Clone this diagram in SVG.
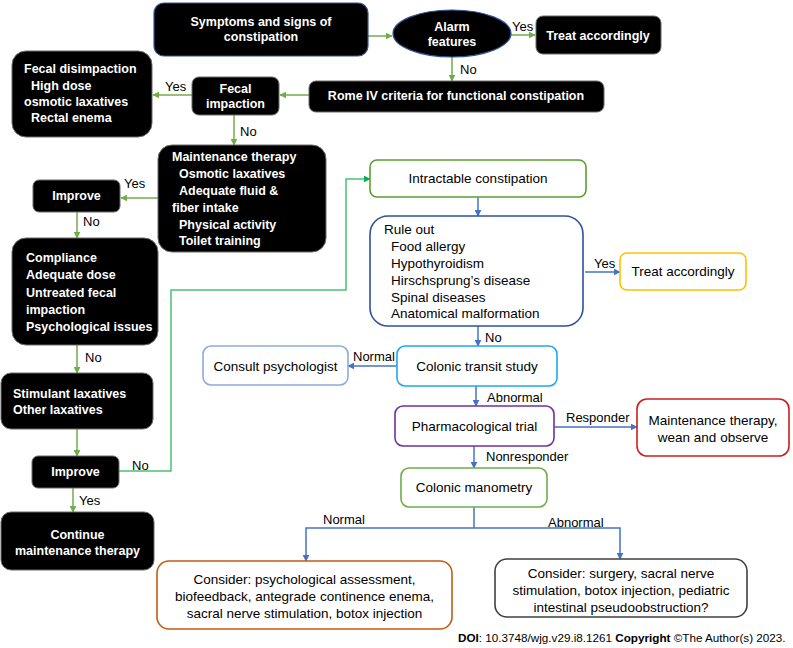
<svg xmlns="http://www.w3.org/2000/svg" width="793" height="648" viewBox="0 0 793 648">
<defs>
<style>
.bk{fill:#000;stroke:#6b6b6b;stroke-width:1}
.bt{font-family:"Liberation Sans",Arial,sans-serif;font-weight:bold;font-size:12.5px;fill:#fff}
.t{font-family:"Liberation Sans",Arial,sans-serif;font-size:13.5px;fill:#000}
.lb{font-family:"Liberation Sans",Arial,sans-serif;font-size:13px;fill:#000}
.ob{fill:#fff;stroke-width:1.6}
.g{stroke:#70ad47;stroke-width:1.5;fill:none}
.b{stroke:#4472c4;stroke-width:1.5;fill:none}
.c{text-anchor:middle}
</style>
<marker id="ag" viewBox="0 0 10 10" refX="9" refY="5" markerWidth="7" markerHeight="7" markerUnits="userSpaceOnUse" orient="auto"><path d="M0,0L10,5L0,10z" fill="#70ad47"/></marker>
<marker id="ag2" viewBox="0 0 10 10" refX="9" refY="5" markerWidth="7" markerHeight="7" markerUnits="userSpaceOnUse" orient="auto"><path d="M0,0L10,5L0,10z" fill="#00b050"/></marker>
<marker id="ab" viewBox="0 0 10 10" refX="9" refY="5" markerWidth="7" markerHeight="7" markerUnits="userSpaceOnUse" orient="auto"><path d="M0,0L10,5L0,10z" fill="#4472c4"/></marker>
</defs>
<rect width="793" height="648" fill="#fff"/>

<g id="connectors">
<line class="g" x1="368" y1="36" x2="392" y2="36" marker-end="url(#ag)"/>
<line class="g" x1="511" y1="35" x2="535" y2="35" marker-end="url(#ag)"/>
<line class="g" x1="452" y1="57" x2="452" y2="81" marker-end="url(#ag)"/>
<line class="g" x1="309" y1="95" x2="280" y2="95" marker-end="url(#ag)"/>
<line class="g" x1="192" y1="95" x2="153" y2="95" marker-end="url(#ag)"/>
<line class="g" x1="234" y1="115" x2="234" y2="145" marker-end="url(#ag)"/>
<line class="g" x1="158" y1="198" x2="121" y2="198" marker-end="url(#ag)"/>
<line class="g" x1="77" y1="212" x2="77" y2="238" marker-end="url(#ag)"/>
<line class="g" x1="77" y1="345" x2="77" y2="373" marker-end="url(#ag)"/>
<line class="g" x1="77" y1="429" x2="77" y2="456" marker-end="url(#ag)"/>
<line class="g" x1="73" y1="488" x2="73" y2="512" marker-end="url(#ag)"/>
<path d="M119,471H171V290H346V179H370" fill="none" stroke="#4cc271" stroke-width="1.5" marker-end="url(#ag2)"/>
<line class="b" x1="478" y1="197" x2="478" y2="216" marker-end="url(#ab)"/>
<line class="b" x1="585" y1="272" x2="620" y2="272" marker-end="url(#ab)"/>
<line class="b" x1="478" y1="326" x2="478" y2="346" marker-end="url(#ab)"/>
<line class="b" x1="397" y1="366" x2="348" y2="366" marker-end="url(#ab)"/>
<line class="b" x1="476" y1="386" x2="476" y2="406" marker-end="url(#ab)"/>
<line class="b" x1="554" y1="427" x2="637" y2="427" marker-end="url(#ab)"/>
<line class="b" x1="474" y1="446" x2="474" y2="468" marker-end="url(#ab)"/>
<path class="b" d="M474,507V528"/>
<path class="b" d="M474,528H306V561" marker-end="url(#ab)"/>
<path class="b" d="M474,528H620V559" marker-end="url(#ab)"/>
<text class="lb" x="512" y="31">Yes</text>
<text class="lb" x="460" y="74">No</text>
<text class="lb" x="165" y="91">Yes</text>
<text class="lb" x="240" y="136">No</text>
<text class="lb" x="124" y="188">Yes</text>
<text class="lb" x="83" y="226">No</text>
<text class="lb" x="85" y="362">No</text>
<text class="lb" x="132" y="470">No</text>
<text class="lb" x="79" y="505">Yes</text>
<text class="lb" x="594" y="268">Yes</text>
<text class="lb" x="485" y="342">No</text>
<text class="lb" x="353" y="361">Normal</text>
<text class="lb" x="487" y="402">Abnormal</text>
<text class="lb" x="566" y="422">Responder</text>
<text class="lb" x="486" y="461">Nonresponder</text>
<text class="lb" x="323" y="524">Normal</text>
<text class="lb" x="548" y="527">Abnormal</text>
</g>

<g id="symptoms">
<rect x="154" y="3" width="214" height="53" rx="10" fill="#000" stroke="#2f5597" stroke-width="1.2"/>
<text class="bt c" x="261" y="25.5">Symptoms and signs of</text>
<text class="bt c" x="261" y="41">constipation</text>
</g>
<g id="alarm">
<ellipse cx="452" cy="33.5" rx="59" ry="23.5" fill="#000" stroke="#2f5597" stroke-width="1.2"/>
<text class="bt c" x="452" y="30.5">Alarm</text>
<text class="bt c" x="452" y="46">features</text>
</g>
<g id="treat1">
<rect class="bk" x="536" y="16" width="125" height="38" rx="7"/>
<text class="bt c" x="598" y="39.5">Treat accordingly</text>
</g>
<g id="rome">
<rect class="bk" x="309" y="81" width="295" height="31" rx="7"/>
<text class="bt c" x="456" y="99.5">Rome IV criteria for functional constipation</text>
</g>
<g id="fecal-impaction">
<rect class="bk" x="192" y="77" width="87" height="38" rx="7"/>
<text class="bt c" x="235.5" y="92.5">Fecal</text>
<text class="bt c" x="235.5" y="107.5">impaction</text>
</g>
<g id="disimpaction">
<rect class="bk" x="12" y="51" width="140" height="86" rx="14"/>
<text class="bt" x="24" y="73">Fecal disimpaction</text>
<text class="bt" x="31" y="90">High dose</text>
<text class="bt" x="24" y="106">osmotic laxatives</text>
<text class="bt" x="31" y="122">Rectal enema</text>
</g>
<g id="maintenance">
<rect class="bk" x="158" y="145" width="168" height="107" rx="14"/>
<text class="bt" x="172" y="160.5">Maintenance therapy</text>
<text class="bt" x="179" y="177.5">Osmotic laxatives</text>
<text class="bt" x="179" y="194.5">Adequate fluid &amp;</text>
<text class="bt" x="172" y="211.5">fiber intake</text>
<text class="bt" x="179" y="228.5">Physical activity</text>
<text class="bt" x="179" y="244.5">Toilet training</text>
</g>
<g id="improve1">
<rect class="bk" x="33" y="180" width="87" height="32" rx="6"/>
<text class="bt c" x="76.5" y="199.5">Improve</text>
</g>
<g id="compliance">
<rect class="bk" x="12" y="238" width="146" height="107" rx="14"/>
<text class="bt" x="26" y="261.5">Compliance</text>
<text class="bt" x="26" y="278.5">Adequate dose</text>
<text class="bt" x="26" y="296.5">Untreated fecal</text>
<text class="bt" x="26" y="313.5">impaction</text>
<text class="bt" x="26" y="330.5">Psychological issues</text>
</g>
<g id="stimulant">
<rect class="bk" x="1" y="373" width="152" height="56" rx="10"/>
<text class="bt" x="13" y="397.5">Stimulant laxatives</text>
<text class="bt" x="13" y="413.5">Other laxatives</text>
</g>
<g id="improve2">
<rect class="bk" x="32" y="456" width="87" height="32" rx="6"/>
<text class="bt c" x="75.5" y="475.5">Improve</text>
</g>
<g id="continue">
<rect class="bk" x="1" y="512" width="153" height="58" rx="10"/>
<text class="bt c" x="77.5" y="538.5">Continue</text>
<text class="bt c" x="77.5" y="554.5">maintenance therapy</text>
</g>

<g id="intractable">
<rect class="ob" x="370" y="160" width="216" height="37" rx="7" stroke="#5aa02c"/>
<text class="t c" x="478" y="183">Intractable constipation</text>
</g>
<g id="ruleout">
<rect class="ob" x="370" y="216" width="213" height="110" rx="18" stroke="#2f4f9f"/>
<text class="t" x="384" y="233.5">Rule out</text>
<text class="t" x="391" y="250.5">Food allergy</text>
<text class="t" x="391" y="267.5">Hypothyroidism</text>
<text class="t" x="391" y="284.5">Hirschsprung’s disease</text>
<text class="t" x="391" y="301.5">Spinal diseases</text>
<text class="t" x="391" y="317.5">Anatomical malformation</text>
</g>
<g id="treat2">
<rect class="ob" x="620" y="253" width="126" height="37" rx="7" stroke="#ffc000"/>
<text class="t c" x="683" y="276">Treat accordingly</text>
</g>
<g id="transit">
<rect class="ob" x="397" y="346" width="160" height="40" rx="8" stroke="#1fa8f0"/>
<text class="t c" x="477" y="371">Colonic transit study</text>
</g>
<g id="psychologist">
<rect class="ob" x="203" y="346" width="145" height="39" rx="8" stroke="#8eaadb"/>
<text class="t c" x="275.5" y="370.5">Consult psychologist</text>
</g>
<g id="pharm">
<rect class="ob" x="395" y="406" width="159" height="40" rx="8" stroke="#7030a0"/>
<text class="t c" x="474.5" y="431">Pharmacological trial</text>
</g>
<g id="maint2">
<rect class="ob" x="637" y="399" width="152" height="57" rx="10" stroke="#cc1f1f"/>
<text class="t c" x="713" y="424.5">Maintenance therapy,</text>
<text class="t c" x="713" y="441.5">wean and observe</text>
</g>
<g id="manometry">
<rect class="ob" x="401" y="468" width="146" height="39" rx="8" stroke="#70ad47"/>
<text class="t c" x="474" y="492">Colonic manometry</text>
</g>
<g id="consider1">
<rect class="ob" x="157" y="561" width="295" height="68" rx="12" stroke="#c55a11"/>
<text class="t c" x="304.5" y="583.5">Consider: psychological assessment,</text>
<text class="t c" x="304.5" y="600.5">biofeedback, antegrade continence enema,</text>
<text class="t c" x="304.5" y="617.5">sacral nerve stimulation, botox injection</text>
</g>
<g id="consider2">
<rect class="ob" x="495" y="559" width="252" height="58" rx="12" stroke="#404040"/>
<text class="t c" x="621" y="577.5">Consider: surgery, sacral nerve</text>
<text class="t c" x="621" y="594.5">stimulation, botox injection, pediatric</text>
<text class="t c" x="621" y="611.5">intestinal pseudoobstruction?</text>
</g>
<text x="458" y="642" font-family="Liberation Sans,Arial,sans-serif" font-size="11.7" fill="#000"><tspan font-weight="bold">DOI</tspan>: 10.3748/wjg.v29.i8.1261  <tspan font-weight="bold">Copyright</tspan> ©The Author(s) 2023.</text>
</svg>
